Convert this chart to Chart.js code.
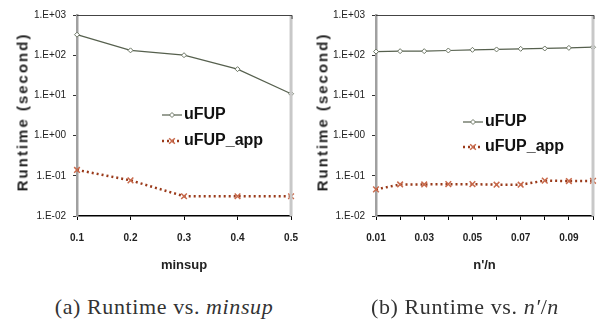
<!DOCTYPE html>
<html>
<head>
<meta charset="utf-8">
<script src="https://cdn.jsdelivr.net/npm/chart.js@4"></script>
<style>
  body { margin: 0; width: 605px; height: 320px; background: #fff; position: relative; overflow: hidden; }
  .box { position: absolute; top: 0; }
  .ytitle { position: absolute; transform: translate(-50%, -50%) rotate(-90deg); font: bold 15px 'Liberation Sans', Arial, sans-serif; letter-spacing: 2px; white-space: nowrap; color: #222; }
  .cap { position: absolute; top: 294px; transform: translateX(-50%); font: 22px 'Liberation Serif', 'Times New Roman', serif; letter-spacing: 0.6px; white-space: nowrap; color: #333; }
</style>
</head>
<body>
<div class="box" style="left:0"><canvas id="c1" width="310" height="280"></canvas></div>
<div class="box" style="left:300px"><canvas id="c2" width="305" height="280"></canvas></div>
<div class="ytitle" style="left:22px;top:112px">Runtime (second)</div>
<div class="ytitle" style="left:322px;top:112px">Runtime (second)</div>
<div class="cap" style="left:164px">(a) Runtime vs. <i>minsup</i></div>
<div class="cap" style="left:465px">(b) Runtime vs. <i>n′</i>/<i>n</i></div>
<script>
// data
const minsupLabels = ['0.1', '0.2', '0.3', '0.4', '0.5'];
const uFUPbyMinsup = [324, 132, 100, 45, 11];
const uFUPappByMinsup = [0.14, 0.077, 0.031, 0.031, 0.031];

const ratioLabels = ['0.01', '0.02', '0.03', '0.04', '0.05', '0.06', '0.07', '0.08', '0.09', '0.10'];
const ratioTickLabels = ['0.01', '', '0.03', '', '0.05', '', '0.07', '', '0.09', ''];
const uFUPbyRatio = [123, 126, 126, 131, 136, 139, 144, 147, 152, 158];
const uFUPappByRatio = [0.046, 0.061, 0.061, 0.062, 0.062, 0.060, 0.060, 0.076, 0.074, 0.075];

const yTickValues = [0.01, 0.1, 1, 10, 100, 1000];

function expLabel(v) {
  const e = Math.round(Math.log10(v));
  return '1.E' + (e < 0 ? '-' : '+') + String(Math.abs(e)).padStart(2, '0');
}

// top and right frame lines
const frame = {
  id: 'frame',
  afterDraw(chart) {
    const { ctx, chartArea: a } = chart;
    ctx.save();
    ctx.strokeStyle = '#c8c8c8';
    ctx.lineWidth = 3;
    ctx.beginPath(); ctx.moveTo(a.right, a.top); ctx.lineTo(a.right, a.bottom); ctx.stroke();
    ctx.strokeStyle = '#444';
    ctx.lineWidth = 1;
    ctx.beginPath(); ctx.moveTo(a.left, a.top + 0.5); ctx.lineTo(a.right + 1, a.top + 0.5); ctx.lineTo(a.right + 1, a.top + 4); ctx.stroke();
    ctx.restore();
  }
};

// legend drawn inside the plot
const inlineLegend = {
  id: 'inlineLegend',
  afterDraw(chart, args, opts) {
    const ctx = chart.ctx;
    ctx.save();
    chart.data.datasets.forEach((ds, i) => {
      const y = opts.y + i * opts.rowGap;
      ctx.strokeStyle = ds.borderColor;
      ctx.lineWidth = ds.borderWidth;
      ctx.setLineDash(ds.borderDash || []);
      ctx.beginPath(); ctx.moveTo(opts.x, y); ctx.lineTo(opts.x + opts.sample, y); ctx.stroke();
      ctx.setLineDash([]);
      ctx.fillStyle = ds.pointBackgroundColor;
      ctx.strokeStyle = ds.pointBorderColor;
      ctx.lineWidth = ds.pointBorderWidth;
      Chart.helpers.drawPoint(ctx, { pointStyle: ds.pointStyle, radius: ds.pointRadius, borderWidth: ds.pointBorderWidth, rotation: 0 }, opts.x + opts.sample / 2, y);
      ctx.fillStyle = '#111';
      ctx.font = opts.font;
      ctx.textBaseline = 'middle';
      ctx.textAlign = 'left';
      ctx.fillText(ds.label, opts.x + opts.sample + 2, y);
    });
    ctx.restore();
  }
};

function makeChart(id, labels, tickLabels, exact, approx, yWidth, padRight, legendPos, xTitle) {
  return new Chart(document.getElementById(id), {
    type: 'line',
    data: {
      labels: labels,
      datasets: [{
        label: 'uFUP',
        data: exact,
        borderColor: '#56604e',
        borderWidth: 1.2,
        pointStyle: 'rectRot',
        pointRadius: 2.5,
        pointBackgroundColor: '#fff',
        pointBorderColor: '#6b7563',
        pointBorderWidth: 1,
        clip: false
      }, {
        label: 'uFUP_app',
        data: approx,
        borderColor: '#9a3a1a',
        borderWidth: 2.5,
        borderDash: [2, 3],
        pointStyle: 'crossRot',
        pointRadius: 4,
        pointBackgroundColor: '#c86a4c',
        pointBorderColor: '#c86a4c',
        pointBorderWidth: 1.5,
        clip: false
      }]
    },
    options: {
      responsive: false,
      animation: false,
      devicePixelRatio: 1,
      layout: { padding: { top: 15, right: padRight, left: 0, bottom: 0 } },
      plugins: {
        legend: { display: false },
        tooltip: { enabled: false },
        inlineLegend: legendPos
      },
      scales: {
        x: {
          type: 'category',
          offset: false,
          border: { display: true, color: '#000', width: 1.5 },
          grid: { drawOnChartArea: false, drawTicks: true, tickLength: 4, tickColor: '#000' },
          ticks: {
            autoSkip: false, maxRotation: 0, padding: 12, color: '#222',
            font: { family: 'Liberation Sans, Arial', size: 10, weight: 'bold' },
            callback: (v, i) => tickLabels[i]
          },
          title: {
            display: true, text: xTitle, color: '#222',
            font: { family: 'Liberation Sans, Arial', size: 13, weight: 'bold' },
            padding: { top: 0, bottom: 7 }
          },
          afterFit: s => { s.height = 64; }
        },
        y: {
          type: 'logarithmic',
          min: 0.01,
          max: 1000,
          border: { display: true, color: '#a0a0a0', width: 2.5 },
          grid: { drawOnChartArea: false, drawTicks: true, tickLength: 4, tickColor: '#333' },
          ticks: {
            padding: 7, color: '#222',
            font: { family: 'Liberation Sans, Arial', size: 10 },
            callback: v => expLabel(v)
          },
          afterBuildTicks: s => { s.ticks = yTickValues.map(v => ({ value: v })); },
          afterFit: s => { s.width = yWidth; }
        }
      }
    },
    plugins: [frame, inlineLegend]
  });
}

const legendFont = "bold 16px 'Liberation Sans', Arial";
makeChart('c1', minsupLabels, minsupLabels, uFUPbyMinsup, uFUPappByMinsup, 77, 7,
  { x: 162, y: 115, rowGap: 26, sample: 20, font: legendFont }, 'minsup');
makeChart('c2', ratioLabels, ratioTickLabels, uFUPbyRatio, uFUPappByRatio, 76, 5,
  { x: 163, y: 122, rowGap: 25, sample: 20, font: legendFont }, "n'/n");
</script>
</body>
</html>
